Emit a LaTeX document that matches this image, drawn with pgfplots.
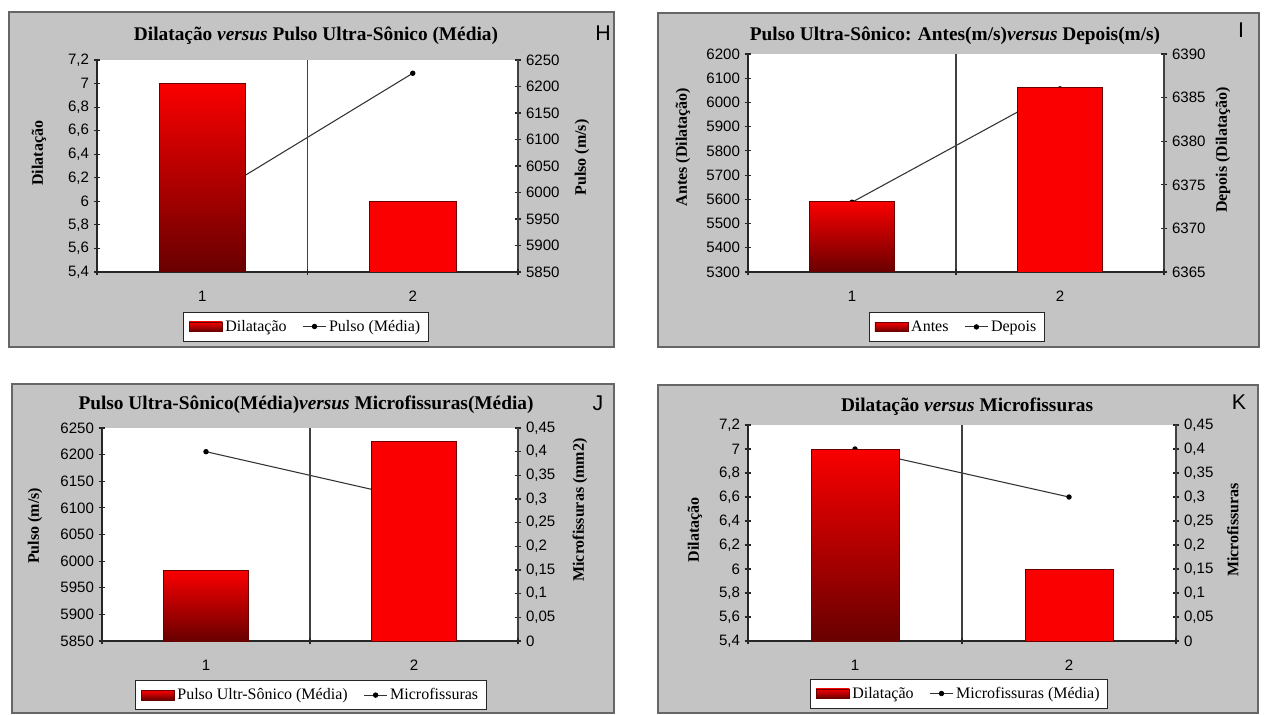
\documentclass[border=0pt]{standalone}
\usepackage{pgfplots}
\pgfplotsset{compat=1.18}
\usepackage{fontspec}
\setmainfont{Liberation Serif}
\newfontfamily\arialf{Liberation Sans}
\definecolor{panelgray}{RGB}{196,196,196}
\definecolor{xlred}{RGB}{250,0,0}
\definecolor{xldark}{RGB}{105,0,0}
\newcommand\tickfont{\arialf\fontsize{11.3}{13}\selectfont}
\newcommand\labfont{\bfseries\fontsize{12}{14}\selectfont}
\newcommand\legfont{\fontsize{12}{14}\selectfont}
\newcommand\titfont{\bfseries\fontsize{14.5}{16}\selectfont}
\newcommand\letfont{\arialf\fontsize{16}{18}\selectfont}
\pgfplotsset{
  common/.style={
    scale only axis, anchor=south west, xmin=0.5, xmax=2.5,
    scaled y ticks=false,
    /pgf/number format/fixed,
    /pgf/number format/precision=2,
    /pgf/number format/use comma,
    /pgf/number format/1000 sep={},
    /pgf/number format/assume math mode=true,
    tick label style={font=\tickfont},
    tick align=center, major tick length=5pt,
    axis line style={black!85, line width=0.8pt},
    tick style={black!85, line width=0.8pt},
  },
  lineax/.style={common, axis x line=none, axis y line*=right,
    axis background/.style={fill=white}},
  barax/.style={common, axis x line*=bottom, axis y line*=left,
    xtick={0.5,1.5,2.5}, xticklabels={}, xmajorgrids=true,
    major x grid style={black!75, line width=0.8pt},
    extra x ticks={1,2}, extra x tick labels={1,2},
    extra x tick style={major tick length=0pt, grid=none},
    xticklabel style={yshift=-11pt},
    legend columns=2,
    legend style={anchor=center, draw=black!85, fill=white, font=\legfont,
      inner xsep=4pt, inner ysep=4pt,
      /tikz/every even column/.append style={column sep=10pt}},
  },
  lineser/.style={black!80, line width=0.8pt, mark=*, mark size=1.6pt,
    mark options={fill=black, draw=black}},
  barleg/.style={legend image code/.code={\draw[##1] (0pt,-3.5pt) rectangle (25pt,3.5pt);}},
  bar1/.style={ybar, bar width=0.41, draw=xldark, top color=xlred, bottom color=xldark, barleg},
  bar2/.style={ybar, bar width=0.41, draw=xldark, fill=xlred, forget plot},
}
\begin{document}
\begin{tikzpicture}
\useasboundingbox (0,0) rectangle (949.5pt,535.5pt);
\fill[white] (0,0) rectangle (949.5pt,535.5pt);
% panels
\filldraw[fill=panelgray, draw=black!60, line width=1.2pt] (6.75pt,275.25pt) rectangle (460.5pt,526.5pt);
\filldraw[fill=panelgray, draw=black!60, line width=1.2pt] (493.5pt,275.25pt) rectangle (944.25pt,525.75pt);
\filldraw[fill=panelgray, draw=black!60, line width=1.2pt] (9pt,0.75pt) rectangle (460.5pt,247.5pt);
\filldraw[fill=panelgray, draw=black!60, line width=1.2pt] (493.5pt,0.75pt) rectangle (943.5pt,246.75pt);

% ---------------- H ----------------
\begin{axis}[lineax, at={(72.75pt,331.5pt)}, width=315.75pt, height=159pt,
  ymin=5850, ymax=6250, ytick distance=50,
  ylabel={Pulso (m/s)},
  every axis y label/.style={at={(axis description cs:1.152,0.54)}, anchor=center, rotate=90, font=\labfont}]
\addplot[lineser] coordinates {(1,5983) (2,6225)};
\end{axis}
\begin{axis}[barax, at={(72.75pt,331.5pt)}, width=315.75pt, height=159pt,
  ymin=5.4, ymax=7.2, ytick distance=0.2,
  ylabel={Dilatação},
  every axis y label/.style={at={(axis description cs:-0.138,0.56)}, anchor=center, rotate=90, font=\labfont},
  legend style={at={(axis description cs:0.496,-0.257)}}]
\addplot[bar1] coordinates {(1,7.0)};
\addlegendentry{Dilatação}
\addplot[bar2] coordinates {(2,6.0)};
\addlegendimage{lineser}
\addlegendentry{Pulso (Média)}
\end{axis}

% ---------------- I ----------------
\begin{axis}[lineax, at={(561pt,331.5pt)}, width=312pt, height=163.5pt,
  ymin=6365, ymax=6390, ytick distance=5,
  ylabel={Depois (Dilatação)},
  every axis y label/.style={at={(axis description cs:1.142,0.56)}, anchor=center, rotate=90, font=\labfont}]
\addplot[lineser] coordinates {(1,6373) (2,6386)};
\end{axis}
\begin{axis}[barax, at={(561pt,331.5pt)}, width=312pt, height=163.5pt,
  ymin=5300, ymax=6200, ytick distance=100,
  ylabel={Antes (Dilatação)},
  every axis y label/.style={at={(axis description cs:-0.156,0.573)}, anchor=center, rotate=90, font=\labfont},
  legend style={at={(axis description cs:0.502,-0.252)}}]
\addplot[bar1] coordinates {(1,5592)};
\addlegendentry{Antes}
\addplot[bar2] coordinates {(2,6062)};
\addlegendimage{lineser}
\addlegendentry{Depois}
\end{axis}

% ---------------- J ----------------
\begin{axis}[lineax, at={(76.5pt,54.75pt)}, width=312pt, height=159.75pt,
  ymin=0, ymax=0.45, ytick distance=0.05,
  ylabel={Microfissuras (mm2)},
  every axis y label/.style={at={(axis description cs:1.149,0.615)}, anchor=center, rotate=90, font=\labfont}]
\addplot[lineser] coordinates {(1,0.40) (2,0.30)};
\end{axis}
\begin{axis}[barax, at={(76.5pt,54.75pt)}, width=312pt, height=159.75pt,
  ymin=5850, ymax=6250, ytick distance=50,
  ylabel={Pulso (m/s)},
  every axis y label/.style={at={(axis description cs:-0.161,0.54)}, anchor=center, rotate=90, font=\labfont},
  legend style={at={(axis description cs:0.502,-0.254)}}]
\addplot[bar1] coordinates {(1,5983)};
\addlegendentry{Pulso Ultr-Sônico (Média)}
\addplot[bar2] coordinates {(2,6225)};
\addlegendimage{lineser}
\addlegendentry{Microfissuras}
\end{axis}

% ---------------- K ----------------
\begin{axis}[lineax, at={(561pt,54.75pt)}, width=321pt, height=162pt,
  ymin=0, ymax=0.45, ytick distance=0.05,
  ylabel={Microfissuras},
  every axis y label/.style={at={(axis description cs:1.133,0.514)}, anchor=center, rotate=90, font=\labfont}]
\addplot[lineser] coordinates {(1,0.40) (2,0.30)};
\end{axis}
\begin{axis}[barax, at={(561pt,54.75pt)}, width=321pt, height=162pt,
  ymin=5.4, ymax=7.2, ytick distance=0.2,
  ylabel={Dilatação},
  every axis y label/.style={at={(axis description cs:-0.124,0.514)}, anchor=center, rotate=90, font=\labfont},
  legend style={at={(axis description cs:0.493,-0.243)}}]
\addplot[bar1] coordinates {(1,7.0)};
\addlegendentry{Dilatação}
\addplot[bar2] coordinates {(2,6.0)};
\addlegendimage{lineser}
\addlegendentry{Microfissuras (Média)}
\end{axis}

% titles and letters
\node[font=\titfont] at (237pt,508.5pt) {Dilatação \textit{versus} Pulso Ultra-Sônico (Média)};
\node[font=\titfont] at (716.25pt,508.5pt) {Pulso Ultra-Sônico: Antes(m/s)\textit{versus} Depois(m/s)};
\node[font=\titfont] at (229.5pt,231.75pt) {Pulso Ultra-Sônico(Média)\textit{versus} Microfissuras(Média)};
\node[font=\titfont] at (725.25pt,230.25pt) {Dilatação \textit{versus} Microfissuras};
\node[font=\letfont] at (452.25pt,510.75pt) {H};
\node[font=\letfont] at (930.75pt,513pt) {I};
\node[font=\letfont] at (448.5pt,233.25pt) {J};
\node[font=\letfont] at (929.25pt,234pt) {K};
\end{tikzpicture}
\end{document}
